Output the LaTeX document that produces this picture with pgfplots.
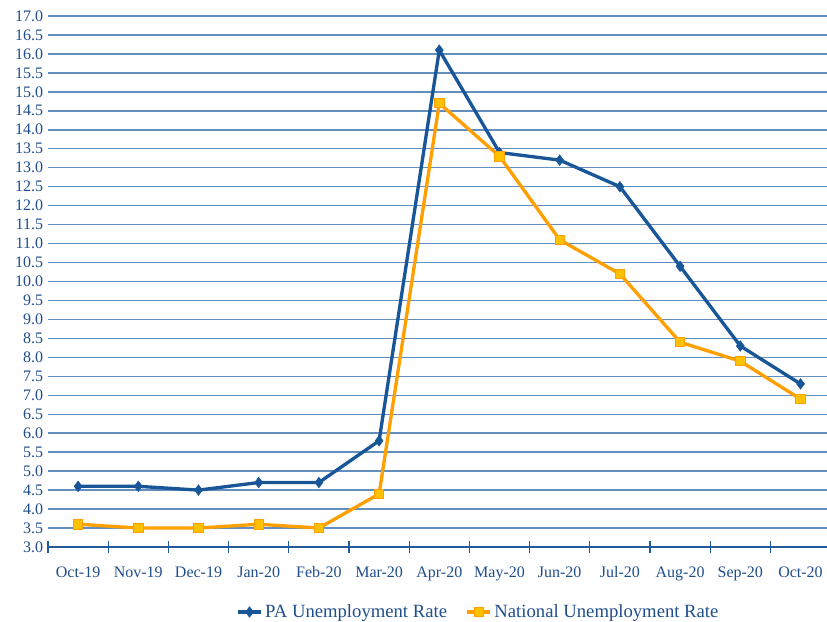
\documentclass[border=0pt]{standalone}
\usepackage{fontspec}
\setmainfont{Liberation Serif}
\usepackage{pgfplots}
\pgfplotsset{compat=1.18}
\definecolor{pablue}{RGB}{24,86,152}
\definecolor{natorange}{RGB}{255,160,0}
\definecolor{natfill}{RGB}{255,192,0}
\definecolor{gridblue}{RGB}{100,142,190}
\definecolor{axisblue}{RGB}{35,90,155}
\definecolor{labelblue}{RGB}{31,78,140}
\begin{document}
\begin{tikzpicture}
\begin{axis}[
  scale only axis,
  width=584.25pt, height=398.25pt,
  xmin=-0.5, xmax=12.44,
  ymin=3, ymax=17,
  separate axis lines,
  axis x line*=bottom, axis y line*=left,
  x axis line style={draw=axisblue, line width=0.9pt, -},
  y axis line style={draw=none},
  xtick={0,...,12},
  xticklabels={Oct-19,Nov-19,Dec-19,Jan-20,Feb-20,Mar-20,Apr-20,May-20,Jun-20,Jul-20,Aug-20,Sep-20,Oct-20},
  minor xtick={-0.5,0.5,...,12.5},
  major x tick style={draw=none},
  minor x tick style={draw=axisblue, line width=0.8pt},
  tick align=center,
  minor tick length=9pt,
  ytick={3,3.5,...,17},
  y tick style={draw=none},
  ymajorgrids,
  major grid style={draw=gridblue, line width=1.1pt},
  yticklabel style={/pgf/number format/fixed, /pgf/number format/fixed zerofill, /pgf/number format/precision=1},
  /pgf/number format/assume math mode=true,
  ticklabel style={font=\fontsize{12}{14}\selectfont, text=labelblue},
  xticklabel style={yshift=-9pt},
  yticklabel style={xshift=2pt},
  legend style={draw=none, fill=none, at={(axis description cs:0.553,-0.1224)}, anchor=center,
    font=\fontsize{14}{16}\selectfont, text=labelblue, /tikz/every even column/.append style={column sep=12pt}},
  legend columns=2,
  clip=false,
]
\addplot[pablue, line width=2.5pt, mark=diamond*, mark size=3.9pt, mark options={fill=pablue, draw=pablue, line width=0.5pt}]
coordinates {(0,4.6)(1,4.6)(2,4.5)(3,4.7)(4,4.7)(5,5.8)(6,16.1)(7,13.4)(8,13.2)(9,12.5)(10,10.4)(11,8.3)(12,7.3)};
\addlegendentry{PA Unemployment Rate}
\addplot[natorange, line width=2.5pt, mark=square*, mark size=3.5pt, mark options={fill=natfill, draw=natorange, line width=0.6pt}]
coordinates {(0,3.6)(1,3.5)(2,3.5)(3,3.6)(4,3.5)(5,4.4)(6,14.7)(7,13.3)(8,11.1)(9,10.2)(10,8.4)(11,7.9)(12,6.9)};
\addlegendentry{National Unemployment Rate}
\end{axis}
\pgfresetboundingbox
\path (-36pt,-55.5pt) rectangle (584.25pt,410.25pt);
\end{tikzpicture}
\end{document}
